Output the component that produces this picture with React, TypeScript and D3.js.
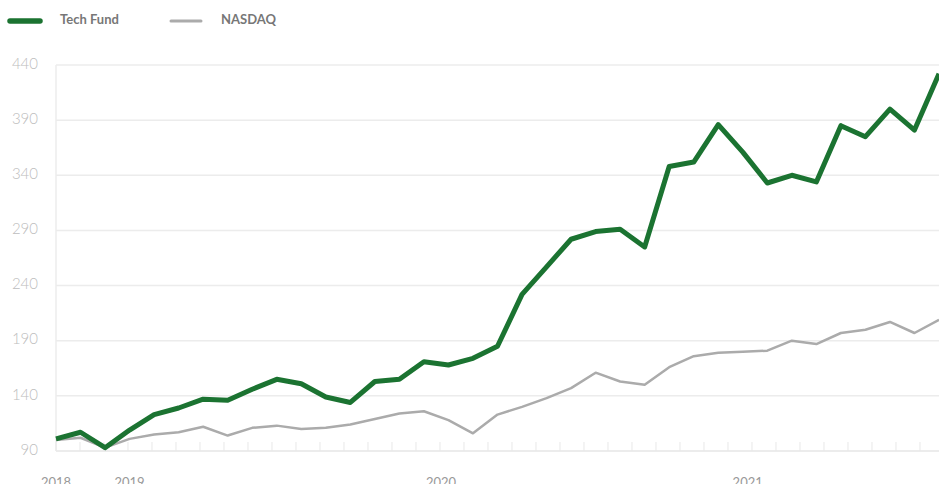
import { useMemo } from 'react';
import { scaleLinear, line, range } from 'd3';

const WIDTH  = 939;
const HEIGHT = 484;
const MARGIN = { top: 65, right: 0, bottom: 33, left: 56 };

const GREEN = '#1b7331';
const GREY  = '#ababab';
const FONT  = 'Lato, "Open Sans", sans-serif';

// monthly index values
const techFund = [
  101, 107, 93, 109, 123, 129, 137, 136, 146, 155, 151, 139, 134,
  153, 155, 171, 168, 174, 185, 232, 257, 282, 289, 291, 275, 348,
  352, 386, 361, 333, 340, 334, 385, 375, 400, 381, 432,
];
const nasdaq = [
  100, 102, 93, 101, 105, 107, 112, 104, 111, 113, 110, 111, 114,
  119, 124, 126, 118, 106, 123, 130, 138, 147, 161, 153, 150, 166,
  176, 179, 180, 181, 190, 187, 197, 200, 207, 197, 209,
];

const yTicks     = [90, 140, 190, 240, 290, 340, 390, 440];
const yearLabels = [
  { label: '2018', at: 0 },
  { label: '2019', at: 3 },
  { label: '2020', at: 15.7 },
  { label: '2021', at: 28.2 },
];
const minorTickCount = 37;

const legend = [
  { name: 'Tech Fund', color: GREEN, width: 5.5 },
  { name: 'NASDAQ',    color: GREY,  width: 3 },
];

export default function App() {
  const x = useMemo(
    () => scaleLinear().domain([0, techFund.length - 1]).range([MARGIN.left, WIDTH - MARGIN.right]),
    [],
  );
  // the minor tick marks run on a slightly denser grid than the data points
  const xTick = useMemo(
    () => scaleLinear().domain([0, (techFund.length - 1) * 1.022]).range([MARGIN.left, WIDTH - MARGIN.right]),
    [],
  );
  const y = useMemo(
    () => scaleLinear().domain([90, 440]).range([HEIGHT - MARGIN.bottom, MARGIN.top]),
    [],
  );

  const path = line<number>().x((_, i) => x(i)).y((d) => y(d));
  const y0 = y(90);

  return (
    <svg width={WIDTH} height={HEIGHT} style={{ position: 'absolute', left: 0, top: 0, display: 'block' }}>
      {/* Legend */}
      {legend.map((l, i) => {
        const lx = 10 + i * 161;
        return (
          <g key={l.name}>
            <line x1={lx} x2={lx + 30} y1={21} y2={21} stroke={l.color} strokeWidth={l.width} strokeLinecap="round" />
            <text x={lx + 50} y={21} dominantBaseline="middle" fontFamily={FONT} fontWeight={700} fontSize={13} fill="#777">
              {l.name}
            </text>
          </g>
        );
      })}

      {/* Grid */}
      {yTicks.map((t) => (
        <g key={t}>
          <line x1={MARGIN.left} x2={WIDTH} y1={y(t)} y2={y(t)} stroke="#ececec" strokeWidth={t === 90 ? 2 : 1.5} />
          <text x={38} y={y(t)} textAnchor="end" dominantBaseline="middle" fontFamily={FONT} fontWeight={300} fontSize={15} fill="#bdbdbd">
            {t}
          </text>
        </g>
      ))}
      <line x1={MARGIN.left} x2={MARGIN.left} y1={y(440)} y2={y0} stroke="#ececec" strokeWidth={1.5} />

      {/* Minor ticks */}
      {range(minorTickCount).map((k) => (
        <line key={k} x1={xTick(k)} x2={xTick(k)} y1={y0 - 9} y2={y0} stroke="#e8e8e8" strokeWidth={1} />
      ))}

      {/* Year labels */}
      {yearLabels.map((l) => (
        <text key={l.label} x={x(l.at)} y={487} textAnchor="middle" fontFamily={FONT} fontSize={13} fill="#999">
          {l.label}
        </text>
      ))}

      {/* Series */}
      <path d={path(nasdaq) ?? ''} fill="none" stroke={GREY} strokeWidth={2.5} strokeLinejoin="round" />
      <path d={path(techFund) ?? ''} fill="none" stroke={GREEN} strokeWidth={5} strokeLinejoin="round" />
    </svg>
  );
}
